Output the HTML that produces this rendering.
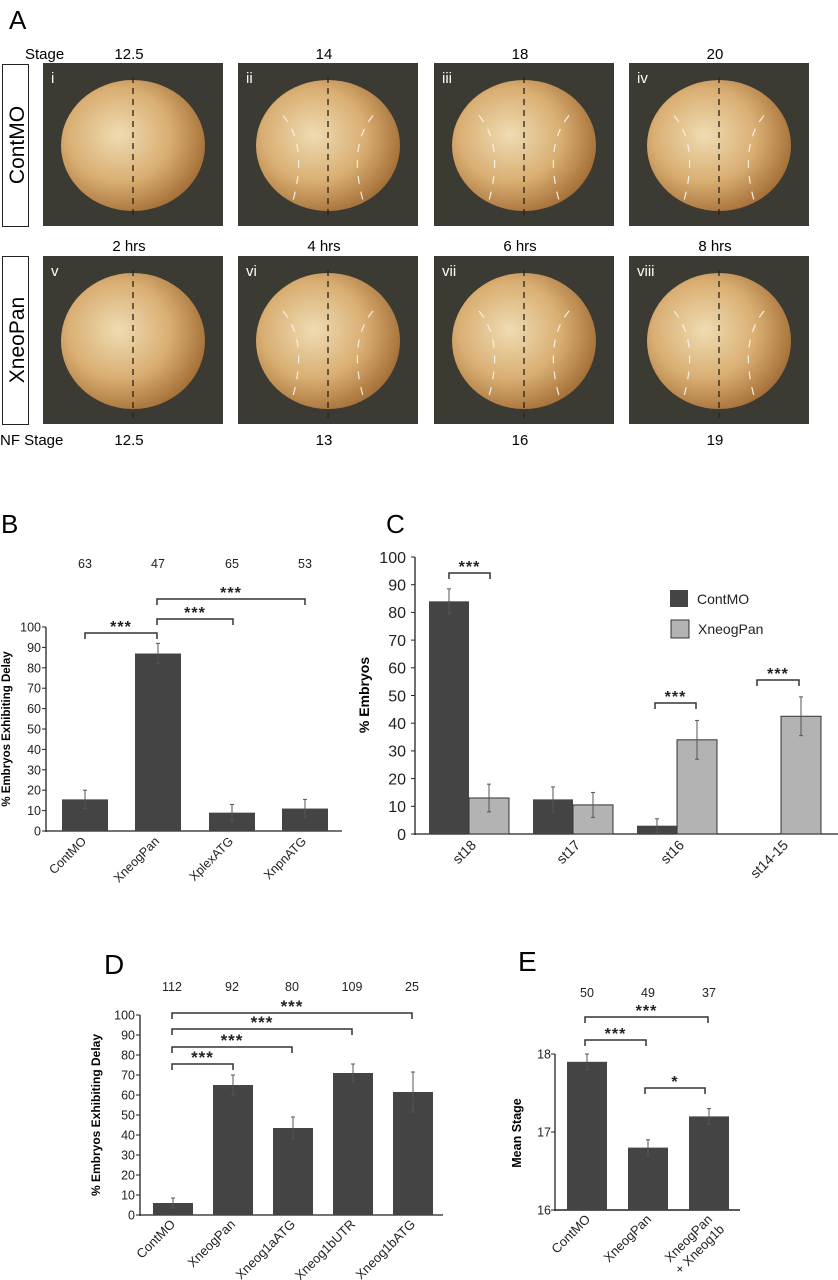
<!DOCTYPE html>
<html><head><meta charset="utf-8"><style>
html,body{margin:0;padding:0;background:#fff;}
svg{display:block;font-family:"Liberation Sans",sans-serif;}
</style></head><body>
<svg id="fig" width="838" height="1280" viewBox="0 0 838 1280" xmlns="http://www.w3.org/2000/svg">
<defs>
<radialGradient id="emb" cx="40%" cy="42%" r="65%">
<stop offset="0" stop-color="#efdcb2"/><stop offset="0.55" stop-color="#d9ae72"/><stop offset="1" stop-color="#a06a32"/>
</radialGradient>
</defs>
<g id="panelA"></g>
<g id="panelB"></g>
<g id="panelC"></g>
<g id="panelD"></g>
<g id="panelE"></g>
</svg>
<script>
// ---- Panel B data
const bCats = ["ContMO","XneogPan","XplexATG","XnpnATG"];
const bVals = [15.5, 87, 9, 11];
const bErrs = [4.5, 5, 4, 4.5];
const bCounts = ["63","47","65","53"];
const bTicks = [0,10,20,30,40,50,60,70,80,90,100];
// ---- Panel C data
const cCats = ["st18","st17","st16","st14-15"];
const cContMO = [84, 12.5, 3, 0];
const cContErr = [4.5, 4.5, 2.5, 0];
const cXneog = [13, 10.5, 34, 42.5];
const cXneogErr = [5, 4.5, 7, 7];
const cTicks = [0,10,20,30,40,50,60,70,80,90,100];
// ---- Panel D data
const dCats = ["ContMO","XneogPan","Xneog1aATG","Xneog1bUTR","Xneog1bATG"];
const dVals = [6, 65, 43.5, 71, 61.5];
const dErrs = [2.5, 5, 5.5, 4.5, 10];
const dCounts = ["112","92","80","109","25"];
const dTicks = [0,10,20,30,40,50,60,70,80,90,100];
// ---- Panel E data
const eCats = ["ContMO","XneogPan","XneogPan"];
const eVals = [17.9, 16.8, 17.2];
const eErrs = [0.1, 0.1, 0.1];
const eCounts = ["50","49","37"];
const eTicks = [16,17,18];

const NS="http://www.w3.org/2000/svg";
function mk(parent,tag,attrs,text){const e=document.createElementNS(NS,tag);for(const k in attrs)e.setAttribute(k,attrs[k]);if(text!==undefined)e.textContent=text;parent.appendChild(e);return e;}

// ===== Panel A =====
const A=document.getElementById('panelA');
let t=mk(A,'text',{x:9,y:29,'font-size':26},'A');


const colX=[43,238,434,629], colW=180;
const topLbl=["12.5","14","18","20"], midLbl=["2 hrs","4 hrs","6 hrs","8 hrs"], botLbl=["12.5","13","16","19"];
const romans=[["i","ii","iii","iv"],["v","vi","vii","viii"]];
const rows=[{y:63,h:163},{y:256,h:168}];
t=mk(A,'text',{x:25,y:59,'font-size':15},'Stage');


t=mk(A,'text',{x:0,y:445,'font-size':15},'NF Stage');


for(let c=0;c<4;c++){
  const cx=colX[c]+colW/2;
  t=mk(A,'text',{x:cx-4,y:59,'font-size':15,'text-anchor':'middle'},topLbl[c]);
  
  
  t=mk(A,'text',{x:cx-4,y:251,'font-size':15,'text-anchor':'middle'},midLbl[c]);
  
  
  t=mk(A,'text',{x:cx-4,y:445,'font-size':15,'text-anchor':'middle'},botLbl[c]);
  
  
  for(let r=0;r<2;r++){
    const R=rows[r];
    const g=mk(A,'g',{});
    
    
    mk(g,'rect',{x:colX[c],y:R.y,width:colW,height:R.h,fill:'#3b3a33'});
    const ecx=colX[c]+90, ecy=R.y+R.h/2+1;
    mk(g,'ellipse',{cx:ecx,cy:ecy,rx:72,ry:R.h/2-16,fill:'url(#emb)'});
    mk(g,'line',{x1:ecx,y1:R.y+14,x2:ecx,y2:R.y+R.h-6,stroke:'#2a2118','stroke-width':1.3,'stroke-dasharray':'6,5'});
    if(c>0){
      mk(g,'path',{d:`M${ecx-45} ${ecy-30} Q${ecx-20} ${ecy} ${ecx-35} ${ecy+55} M${ecx+45} ${ecy-30} Q${ecx+20} ${ecy} ${ecx+35} ${ecy+55}`,fill:'none',stroke:'#f4f0e6','stroke-width':1.2,'stroke-dasharray':'8,8'});
    }
    mk(g,'text',{x:colX[c]+8,y:R.y+20,'font-size':15,fill:'#fff'},romans[r][c]);
  }
}
[[2,64,162,'ContMO'],[2,256,168,'XneoPan']].forEach(b=>{
  const g=mk(A,'g',{});
  
  
  mk(g,'rect',{x:b[0]+0.5,y:b[1]+0.5,width:26,height:b[2],fill:'#fff',stroke:'#222','stroke-width':1});
  mk(g,'text',{x:0,y:0,'font-size':21,'text-anchor':'middle',transform:`translate(${b[0]+22},${b[1]+b[2]/2}) rotate(-90)`},b[3]);
});

// generic helpers
function yAxis(G,x,y0,ticks,yf,fs,lblX){
  mk(G,'line',{x1:x,y1:yf(ticks[0])+1,x2:x,y2:yf(ticks[ticks.length-1]),stroke:'#222','stroke-width':1.3});
  ticks.forEach(v=>{
    mk(G,'line',{x1:x-4,y1:yf(v),x2:x,y2:yf(v),stroke:'#222'});
    const tt=mk(G,'text',{x:lblX,y:yf(v)+fs*0.36,'font-size':fs,'text-anchor':'end',fill:'#222'},String(v));
    
    
  });
}
function errBar(G,x,top,bot){
  mk(G,'line',{x1:x,y1:top,x2:x,y2:bot,stroke:'#555','stroke-width':1});
  mk(G,'line',{x1:x-2,y1:top,x2:x+2,y2:top,stroke:'#555'});
  mk(G,'line',{x1:x-2,y1:bot,x2:x+2,y2:bot,stroke:'#555'});
}
function bracket(G,x1,x2,y,drop,stars,fs){
  const b=mk(G,'path',{d:`M${x1} ${y+drop}V${y}H${x2}V${y+drop}`,fill:'none',stroke:'#333','stroke-width':1.5});
  
  
  const s=mk(G,'text',{x:(x1+x2)/2,y:y-1,'font-size':fs,'text-anchor':'middle','font-weight':'bold',fill:'#222','letter-spacing':'1'},stars);
  
  
}

// ===== Panel B =====
const B=document.getElementById('panelB');
t=mk(B,'text',{x:1,y:533,'font-size':26},'B');


const bY=v=>831-v*2.04;
const bX0=[62,135,209,282], bW=46;
yAxis(B,46,831,bTicks,bY,12.5,41);
mk(B,'line',{x1:46,y1:831,x2:342,y2:831,stroke:'#222','stroke-width':1.3});
t=mk(B,'text',{x:0,y:0,'font-size':11.5,'font-weight':'bold','text-anchor':'middle',transform:'translate(10,729) rotate(-90)'},'% Embryos Exhibiting Delay');


bVals.forEach((v,i)=>{
  const r=mk(B,'rect',{x:bX0[i],y:bY(v),width:bW,height:831-bY(v),fill:'#444'});
  
  
  const cx=bX0[i]+bW/2;
  errBar(B,cx,bY(v+bErrs[i]),bY(v-bErrs[i]));
  const l=mk(B,'text',{x:0,y:0,'font-size':12.5,'text-anchor':'end',fill:'#222',transform:`translate(${cx+2},${842}) rotate(-45)`},bCats[i]);
  
  
  const n=mk(B,'text',{x:cx,y:568,'font-size':12.5,'text-anchor':'middle',fill:'#222'},bCounts[i]);
  
  
});
bracket(B,85,157,633,6,'***',16);
bracket(B,157,233,619,6,'***',16);
bracket(B,157,305,599,6,'***',16);

// ===== Panel C =====
const C=document.getElementById('panelC');
t=mk(C,'text',{x:386,y:533,'font-size':26},'C');


const cY=v=>834-v*2.77;
const cX0=[429,533,637,741], cW=40;
yAxis(C,415,834,cTicks,cY,16,406);
mk(C,'line',{x1:415,y1:834,x2:838,y2:834,stroke:'#222','stroke-width':1.3});
t=mk(C,'text',{x:0,y:0,'font-size':14,'font-weight':'bold','text-anchor':'middle',transform:'translate(369,695) rotate(-90)'},'% Embryos');


cCats.forEach((c,i)=>{
  if(cContMO[i]>0){
    const r=mk(C,'rect',{x:cX0[i],y:cY(cContMO[i]),width:cW,height:834-cY(cContMO[i]),fill:'#444'});
    
    
    errBar(C,cX0[i]+cW/2,cY(cContMO[i]+cContErr[i]),cY(cContMO[i]-cContErr[i]));
  }
  const r2=mk(C,'rect',{x:cX0[i]+cW,y:cY(cXneog[i]),width:cW,height:834-cY(cXneog[i]),fill:'#b3b3b3',stroke:'#333','stroke-width':1});
  
  
  errBar(C,cX0[i]+cW*1.5,cY(cXneog[i]+cXneogErr[i]),cY(cXneog[i]-cXneogErr[i]));
  const l=mk(C,'text',{x:0,y:0,'font-size':14,'text-anchor':'end',fill:'#222',transform:`translate(${cX0[i]+cW+8},${846}) rotate(-45)`},c);
  
  
});
bracket(C,449,490,573,6,'***',16);
bracket(C,655,696,703,6,'***',16);
bracket(C,757,799,680,6,'***',16);
let lg=mk(C,'g',{});


mk(lg,'rect',{x:670,y:590,width:18,height:17,fill:'#444'});
mk(lg,'text',{x:697,y:604,'font-size':14,fill:'#222'},'ContMO');
lg=mk(C,'g',{});


mk(lg,'rect',{x:671,y:620,width:18,height:18,fill:'#b3b3b3',stroke:'#333'});
mk(lg,'text',{x:698,y:634,'font-size':14,fill:'#222'},'XneogPan');

// ===== Panel D =====
const D=document.getElementById('panelD');
t=mk(D,'text',{x:104,y:974,'font-size':28},'D');


const dY=v=>1215-v*2.0;
const dX0=[153,213,273,333,393], dW=40;
yAxis(D,140,1215,dTicks,dY,12.5,135);
mk(D,'line',{x1:140,y1:1215,x2:443,y2:1215,stroke:'#222','stroke-width':1.3});
t=mk(D,'text',{x:0,y:0,'font-size':12,'font-weight':'bold','text-anchor':'middle',transform:'translate(100,1115) rotate(-90)'},'% Embryos Exhibiting Delay');


dVals.forEach((v,i)=>{
  const r=mk(D,'rect',{x:dX0[i],y:dY(v),width:dW,height:1215-dY(v),fill:'#444'});
  
  
  const cx=dX0[i]+dW/2;
  errBar(D,cx,dY(v+dErrs[i]),dY(v-dErrs[i]));
  const l=mk(D,'text',{x:0,y:0,'font-size':13,'text-anchor':'end',fill:'#222',transform:`translate(${cx+3},${1225}) rotate(-45)`},dCats[i]);
  
  
  const n=mk(D,'text',{x:cx-1,y:991,'font-size':12.5,'text-anchor':'middle',fill:'#222'},dCounts[i]);
  
  
});
bracket(D,172,233,1064,6,'***',17);
bracket(D,172,292,1047,6,'***',17);
bracket(D,172,352,1029,6,'***',17);
bracket(D,172,412,1013,6,'***',17);

// ===== Panel E =====
const E=document.getElementById('panelE');
t=mk(E,'text',{x:518,y:971,'font-size':28},'E');


const eY=v=>1210-(v-16)*78;
const eX0=[567,628,689], eW=40;
yAxis(E,555,1210,eTicks,eY,12.5,551);
mk(E,'line',{x1:555,y1:1210,x2:740,y2:1210,stroke:'#222','stroke-width':1.5});
t=mk(E,'text',{x:0,y:0,'font-size':12.5,'font-weight':'bold','text-anchor':'middle',transform:'translate(521,1133) rotate(-90)'},'Mean Stage');


eVals.forEach((v,i)=>{
  const r=mk(E,'rect',{x:eX0[i],y:eY(v),width:eW,height:1210-eY(v),fill:'#444'});
  
  
  const cx=eX0[i]+eW/2;
  errBar(E,cx,eY(v+eErrs[i]),eY(v-eErrs[i]));
  const l=mk(E,'text',{x:0,y:0,'font-size':13,'text-anchor':'end',fill:'#222',transform:`translate(${cx+4},${1220}) rotate(-45)`},eCats[i]);
  
  
  const n=mk(E,'text',{x:cx,y:997,'font-size':12.5,'text-anchor':'middle',fill:'#222'},eCounts[i]);
  
  
});
t=mk(E,'text',{x:0,y:0,'font-size':13,'text-anchor':'end',fill:'#222',transform:`translate(${eX0[2]+eW/2+16},${1230}) rotate(-45)`},'+ Xneog1b');


bracket(E,585,708,1017,6,'***',16);
bracket(E,585,646,1040,6,'***',16);
bracket(E,645,705,1088,6,'*',16);
</script>
</body></html>
